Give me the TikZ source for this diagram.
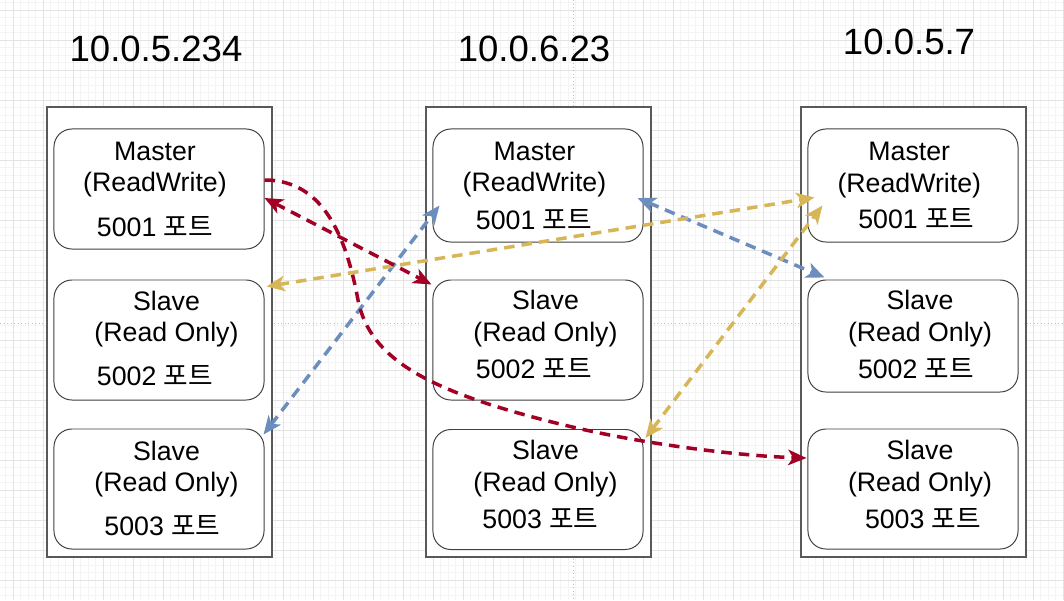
\documentclass[tikz,border=0pt]{standalone}
\usepackage{fontspec}
\setmainfont{Liberation Sans}
\newfontfamily\kr{Noto Sans CJK KR}
\usetikzlibrary{arrows.meta,calc}

\definecolor{redline}{HTML}{A20025}
\definecolor{blueline}{HTML}{6C8EBF}
\definecolor{yellowline}{HTML}{D6B656}
\definecolor{gridminor}{HTML}{F4F4F4}
\definecolor{gridmajor}{HTML}{E3E3E3}

\begin{document}
\begin{tikzpicture}[x=0.025cm, y=-0.025cm,
  host/.style={draw=black!65, line width=0.9pt, fill=white,
    minimum width=5.625cm, minimum height=11.25cm, inner sep=0pt},
  server/.style={draw=black!75, line width=0.7pt, fill=white,
    rounded corners=12.8pt, minimum width=5.25cm, inner sep=0pt},
  txt/.style={anchor=base, inner sep=0pt, font=\fontsize{19}{23}\selectfont},
  hostname/.style={anchor=base, inner sep=0pt, font=\fontsize{26}{31}\selectfont},
  link/.style={line width=2.5pt, dash pattern=on 7.5pt off 5pt},
  both/.style={link, {Stealth[length=13pt, width=11pt, inset=3.5pt]}-{Stealth[length=13pt, width=11pt, inset=3.5pt]}},
  pagebreak/.style={draw=black!25, line width=0.5pt, dotted}
  ]
  \useasboundingbox (0,0) rectangle (1064,600);
  \fill[white] (0,0) rectangle (1064,600);

  % background grid
  \foreach \x in {5.5,13,...,1064} \draw[gridminor, line width=0.5pt] (\x,0) -- (\x,600);
  \foreach \y in {2.5,10,...,600} \draw[gridminor, line width=0.5pt] (0,\y) -- (1064,\y);
  \foreach \x in {13,43,...,1064} \draw[gridmajor, line width=0.6pt] (\x,0) -- (\x,600);
  \foreach \y in {10,40,...,600} \draw[gridmajor, line width=0.6pt] (0,\y) -- (1064,\y);
  \draw[pagebreak] (573,0) -- (573,600);
  \draw[pagebreak] (0,323) -- (1064,323);

  % hosts
  \node[hostname] (t1) at (156,61.7) {10.0.5.234};
  \node[hostname] (t2) at (534,61) {10.0.6.23};
  \node[hostname] (t3) at (909,54) {10.0.5.7};

  \node[host] (h1) at (159.5,332) {};
  \node[host] (h2) at (538.5,332) {};
  \node[host] (h3) at (913.5,332) {};

  % 10.0.5.234
  \node[server, minimum height=3cm] (lm) at (159,189) {};
  \node[txt] (lm-a) at (155,160.7) {Master};
  \node[txt] (lm-b) at (155,191.7) {(ReadWrite)};
  \node[txt] (lm-c) at (155,236) {5001 {\kr 포트}};

  \node[server, minimum height=3cm] (ls1) at (159,340) {};
  \node[txt] (ls1-a) at (166.5,310) {Slave};
  \node[txt] (ls1-b) at (166.5,341.7) {(Read Only)};
  \node[txt] (ls1-c) at (155,385) {5002 {\kr 포트}};

  \node[server, minimum height=3cm] (ls2) at (159,489) {};
  \node[txt] (ls2-a) at (166.5,460) {Slave};
  \node[txt] (ls2-b) at (166.5,491.7) {(Read Only)};
  \node[txt] (ls2-c) at (162.5,535) {5003 {\kr 포트}};

  % 10.0.6.23
  \node[server, minimum height=2.825cm] (mm) at (538,185.5) {};
  \node[txt] (mm-a) at (534.5,160) {Master};
  \node[txt] (mm-b) at (534.5,191.7) {(ReadWrite)};
  \node[txt] (mm-c) at (534,229) {5001 {\kr 포트}};

  \node[server, minimum height=3cm] (ms1) at (538,340) {};
  \node[txt] (ms1-a) at (545.5,309) {Slave};
  \node[txt] (ms1-b) at (545.5,341) {(Read Only)};
  \node[txt] (ms1-c) at (534,378.5) {5002 {\kr 포트}};

  \node[server, minimum height=3cm] (ms2) at (538,489.5) {};
  \node[txt] (ms2-a) at (545.5,459) {Slave};
  \node[txt] (ms2-b) at (545.5,491) {(Read Only)};
  \node[txt] (ms2-c) at (540.5,528.5) {5003 {\kr 포트}};

  % 10.0.5.7
  \node[server, minimum height=2.825cm] (rm) at (913,185.5) {};
  \node[txt] (rm-a) at (909.3,160) {Master};
  \node[txt] (rm-b) at (909.3,192.7) {(ReadWrite)};
  \node[txt] (rm-c) at (916.3,228.5) {5001 {\kr 포트}};

  \node[server, minimum height=2.8cm] (rs1) at (913,336) {};
  \node[txt] (rs1-a) at (920,309) {Slave};
  \node[txt] (rs1-b) at (920,341) {(Read Only)};
  \node[txt] (rs1-c) at (916,378.5) {5002 {\kr 포트}};

  \node[server, minimum height=3cm] (rs2) at (913,489) {};
  \node[txt] (rs2-a) at (920,459) {Slave};
  \node[txt] (rs2-b) at (920,491) {(Read Only)};
  \node[txt] (rs2-c) at (923,528.5) {5003 {\kr 포트}};

  % replication links
  \draw[both, blueline] ($(ls2.north east)+(-1,6)$) -- ($(mm.west)+(7,20)$);
  \draw[both, blueline] ($(mm.east)+(-6,12.5)$) -- ($(rs1.north west)+(17,-2)$);
  \draw[both, yellowline] ($(ls1.north east)+(2,7)$) -- ($(rm.west)+(7,12)$);
  \draw[both, yellowline] ($(ms2.north east)+(2,9)$) -- ($(rm.west)+(15,20)$);
  \draw[both, redline] ($(lm.east)+(0,9)$) -- ($(ms1.north west)+(-1,5)$);
  \draw[link, redline, -{Stealth[length=13pt, width=11pt, inset=3.5pt]}]
    ($(lm.east)+(0,-9)$) .. controls (320,180) and (345,230) .. (358,300)
    .. controls (370,360) and (430,392) .. (560,424)
    .. controls (640,444) and (740,456) .. ($(rs2.west)+(-1,-31)$);
\end{tikzpicture}
\end{document}
